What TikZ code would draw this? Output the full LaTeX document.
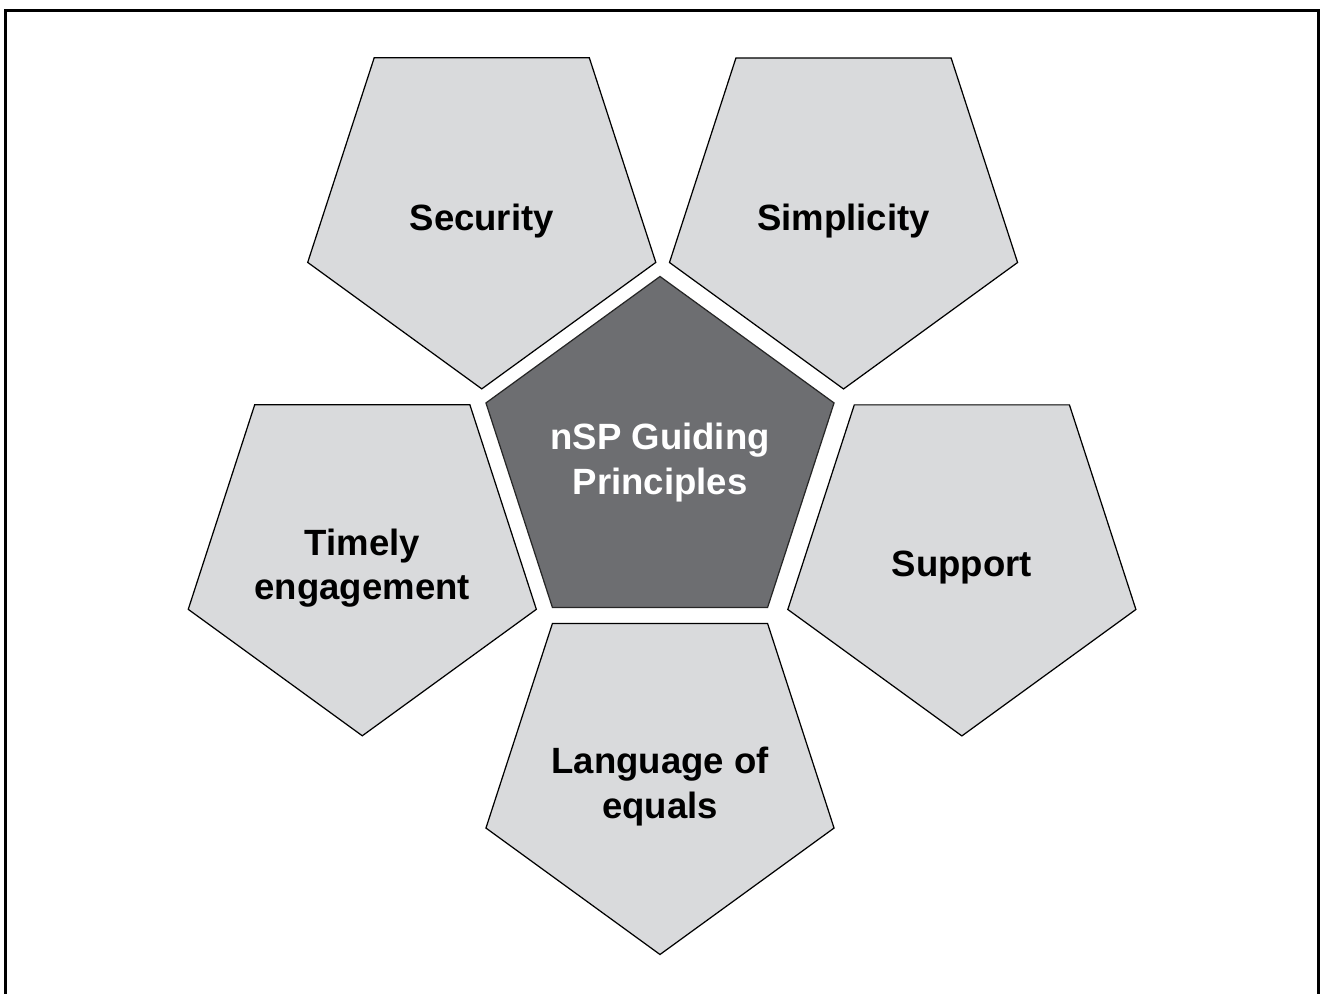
\documentclass[tikz,border=0pt]{standalone}
\usepackage{fontspec}
\setmainfont{Liberation Sans}
\usetikzlibrary{shapes.geometric}

\definecolor{petalgray}{RGB}{217,218,220}
\definecolor{hubgray}{RGB}{109,110,113}

\begin{document}
\begin{tikzpicture}[every node/.style={font=\fontsize{10.4}{12.6}\selectfont\bfseries},
    petal/.style={regular polygon, regular polygon sides=5, regular polygon rotate=180,
        minimum size=3.66cm, inner sep=0pt, draw=black, line width=0.35pt, fill=petalgray},
    hub/.style={regular polygon, regular polygon sides=5,
        minimum size=3.66cm, inner sep=0pt, draw=black!85, line width=0.35pt, fill=hubgray}]
    \useasboundingbox (-6.6,-5.345) rectangle (6.6,4.595);
    % open frame, its bottom edge falls off the page
    \draw[line width=0.85pt] (-6.545,-5.6) -- (-6.545,4.49) -- (6.585,4.49) -- (6.585,-5.6);

    \node[hub] (hub) at (0,0) {};
    \node[text=white, align=center] (hub-label) at ([yshift=-0.3mm]hub.center) {nSP Guiding\\Principles};

    % the five petals sit across the edges of the hub
    \foreach \ang/\dist/\name/\txt in {125.1/3.10/sec/Security, 54.1/3.13/sim/Simplicity,
        197.4/3.12/tim/{Timely\\engagement}, 342.8/3.16/sup/Support,
        270/3.12/lang/{Language of\\equals}} {
        \node[petal] (\name) at (\ang:\dist) {};
        \node[align=center] (\name-label) at ([yshift=-1.5mm]\name.center) {\txt};
    }
\end{tikzpicture}
\end{document}
